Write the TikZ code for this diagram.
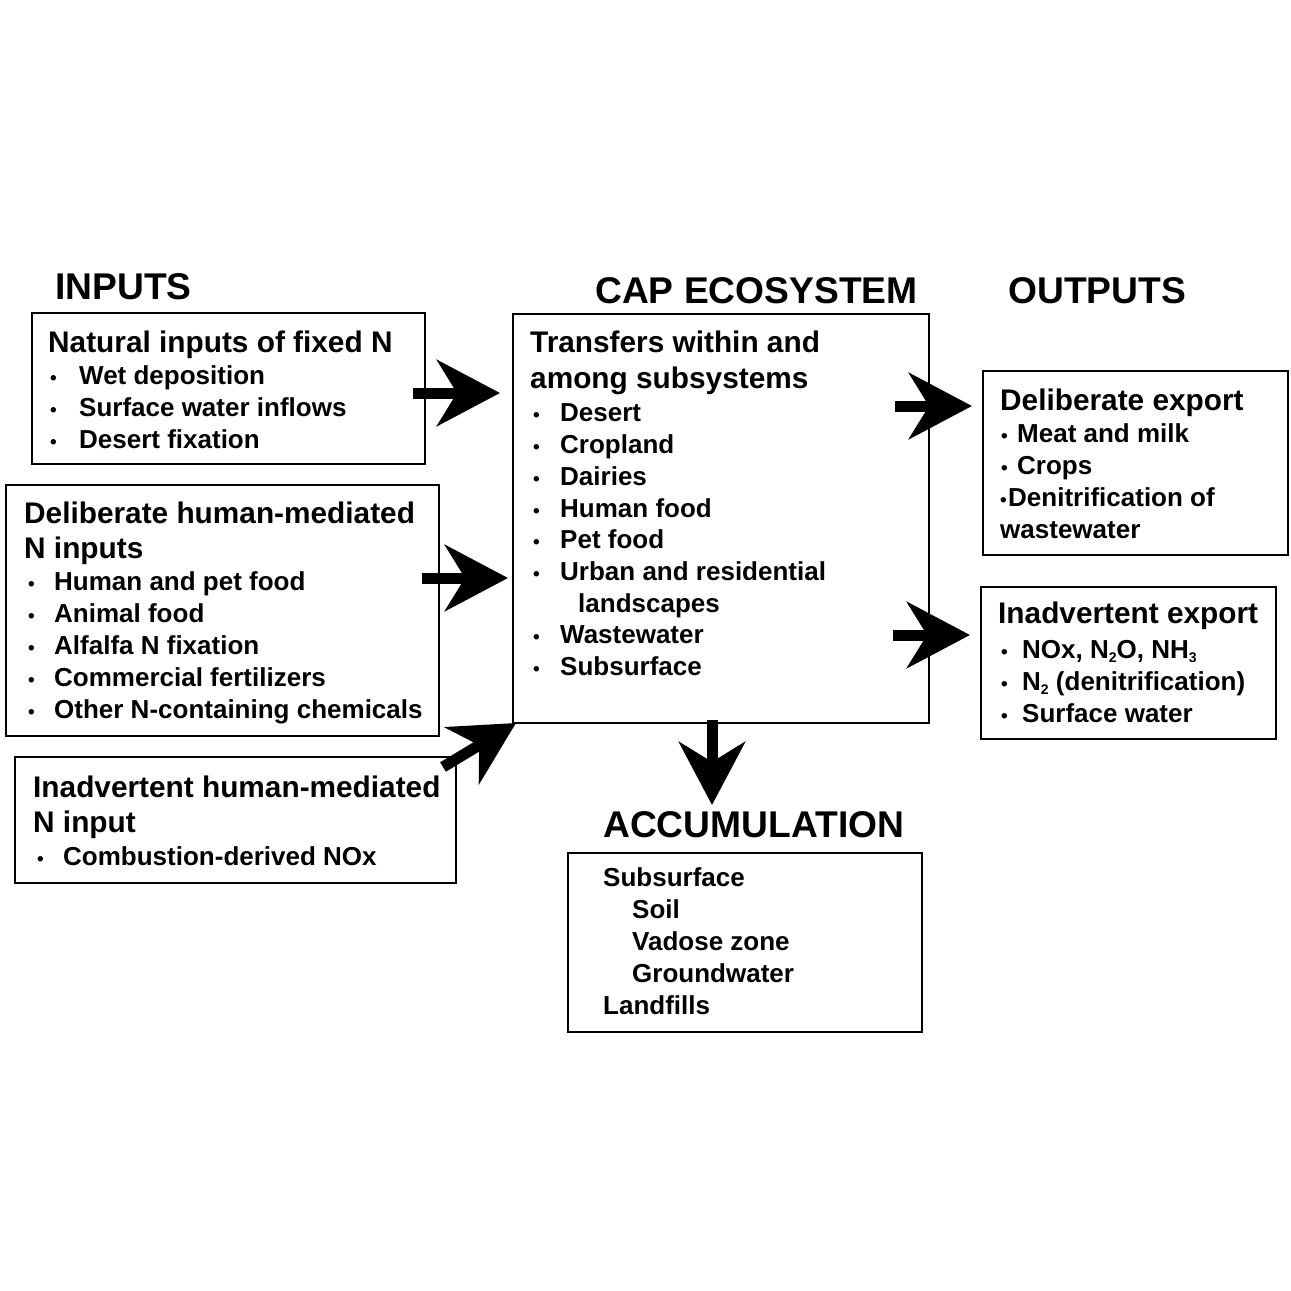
\documentclass[tikz,border=0pt]{standalone}
\usepackage{fontspec}
\setmainfont{Liberation Sans}
\usetikzlibrary{arrows.meta}
\newcommand\mysub[1]{\raisebox{-4pt}{\fontsize{14}{14}\selectfont #1}}
\tikzset{
  box/.style={draw, line width=2.6pt, rectangle, anchor=north west, inner sep=0pt, outer sep=0pt},
  headtxt/.style={anchor=base west, inner sep=0pt, font=\fontsize{37.2}{40}\selectfont\bfseries},
  ttl/.style={anchor=base west, inner sep=0pt, font=\fontsize{29.8}{36}\selectfont\bfseries},
  itm/.style={anchor=base west, inner sep=0pt, font=\fontsize{26}{32}\selectfont\bfseries},
  bul/.style={anchor=base west, inner sep=0pt, font=\fontsize{19}{19}\selectfont\bfseries},
  bigarrow/.style={line width=11pt, -{Stealth[length=63pt, width=66pt, inset=20pt]}},
}
\begin{document}
\begin{tikzpicture}[x=1pt,y=-1pt]
\useasboundingbox (0,0) rectangle (1291,1291);
\fill[white] (0,0) rectangle (1291,1291);

% headings
\node[headtxt] (hin) at (55,299) {INPUTS};
\node[headtxt] (hcap) at (595,303) {CAP ECOSYSTEM};
\node[headtxt] (hout) at (1008,303) {OUTPUTS};
\node[headtxt] (hacc) at (603,837) {ACCUMULATION};

% boxes
\node[box, minimum width=393pt, minimum height=151pt] (natural) at (32,313) {};
\node[box, minimum width=433pt, minimum height=251pt] (delib) at (6,485) {};
\node[box, minimum width=441pt, minimum height=126pt] (inadv) at (15,757) {};
\node[box, minimum width=416pt, minimum height=409pt] (cap) at (513,314) {};
\node[box, minimum width=305pt, minimum height=184pt] (dexp) at (983,371) {};
\node[box, minimum width=295pt, minimum height=152pt] (iexp) at (981,587) {};
\node[box, minimum width=354pt, minimum height=179pt] (accum) at (568,853) {};

% natural inputs
\node[ttl] (n0) at (48,352) {Natural inputs of fixed N};
\node[bul] (nb1) at (50,384) {•};
\node[itm] (n1) at (79,384) {Wet deposition};
\node[bul] (nb2) at (50,416) {•};
\node[itm] (n2) at (79,416) {Surface water inflows};
\node[bul] (nb3) at (50,448) {•};
\node[itm] (n3) at (79,448) {Desert fixation};

% deliberate human-mediated
\node[ttl] (d0) at (24,523) {Deliberate human-mediated};
\node[ttl] (d0b) at (24,558) {N inputs};
\node[bul] (db1) at (28,590) {•};
\node[itm] (d1) at (54,590) {Human and pet food};
\node[bul] (db2) at (28,622) {•};
\node[itm] (d2) at (54,622) {Animal food};
\node[bul] (db3) at (28,654) {•};
\node[itm] (d3) at (54,654) {Alfalfa N fixation};
\node[bul] (db4) at (28,686) {•};
\node[itm] (d4) at (54,686) {Commercial fertilizers};
\node[bul] (db5) at (28,718) {•};
\node[itm] (d5) at (54,718) {Other N-containing chemicals};

% inadvertent human-mediated
\node[ttl] (i0) at (33,797) {Inadvertent human-mediated};
\node[ttl] (i0b) at (33,832) {N input};
\node[bul] (ib1) at (37,865) {•};
\node[itm] (i1) at (63,865) {Combustion-derived NOx};

% CAP ecosystem
\node[ttl] (c0) at (530,352) {Transfers within and};
\node[ttl] (c0b) at (530,388) {among subsystems};
\node[bul] (cb1) at (533,421) {•};
\node[itm] (c1) at (560,421) {Desert};
\node[bul] (cb2) at (533,453) {•};
\node[itm] (c2) at (560,453) {Cropland};
\node[bul] (cb3) at (533,485) {•};
\node[itm] (c3) at (560,485) {Dairies};
\node[bul] (cb4) at (533,517) {•};
\node[itm] (c4) at (560,517) {Human food};
\node[bul] (cb5) at (533,548) {•};
\node[itm] (c5) at (560,548) {Pet food};
\node[bul] (cb6) at (533,580) {•};
\node[itm] (c6) at (560,580) {Urban and residential};
\node[itm] (c6b) at (578,612) {landscapes};
\node[bul] (cb7) at (533,643) {•};
\node[itm] (c7) at (560,643) {Wastewater};
\node[bul] (cb8) at (533,675) {•};
\node[itm] (c8) at (560,675) {Subsurface};

% deliberate export
\node[ttl] (e0) at (1000,410) {Deliberate export};
\node[bul] (eb1) at (1001,442) {•};
\node[itm] (e1) at (1017,442) {Meat and milk};
\node[bul] (eb2) at (1001,474) {•};
\node[itm] (e2) at (1017,474) {Crops};
\node[bul] (eb3) at (1000,506) {•};
\node[itm] (e3) at (1008,506) {Denitrification of};
\node[itm] (e4) at (1000,538) {wastewater};

% inadvertent export
\node[ttl] (x0) at (998,623) {Inadvertent export};
\node[bul] (xb1) at (1001,658) {•};
\node[itm] (x1) at (1022,658) {NOx, N\mysub{2}O, NH\mysub{3}};
\node[bul] (xb2) at (1001,690) {•};
\node[itm] (x2) at (1022,690) {N\mysub{2} (denitrification)};
\node[bul] (xb3) at (1001,722) {•};
\node[itm] (x3) at (1022,722) {Surface water};

% accumulation
\node[itm] (a1t) at (603,886) {Subsurface};
\node[itm] (a2t) at (632,918) {Soil};
\node[itm] (a3t) at (632,950) {Vadose zone};
\node[itm] (a4t) at (632,982) {Groundwater};
\node[itm] (a5t) at (603,1014) {Landfills};

% arrows
\coordinate (s1) at (413,393);
\coordinate (s2) at (422,578);
\coordinate (s3) at (443,767);
\coordinate (s4) at (895,406);
\coordinate (s5) at (893,635);
\coordinate (s6) at (712,720);
\draw[bigarrow, shorten >=13pt] (s1) -- (cap.west |- s1);
\draw[bigarrow, shorten >=5pt] (s2) -- (cap.west |- s2);
\draw[bigarrow] (s3) -- ([xshift=3pt]cap.south west);
\draw[bigarrow, shorten >=11pt] (s4) -- (dexp.west |- s4);
\draw[bigarrow, shorten >=11pt] (s5) -- (iexp.west |- s5);
\draw[bigarrow, shorten >=48pt] (s6) -- (s6 |- accum.north);
\end{tikzpicture}
\end{document}
